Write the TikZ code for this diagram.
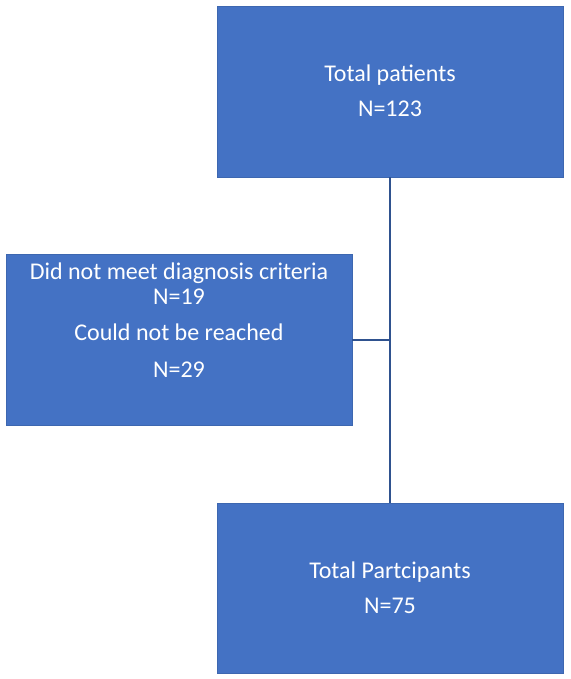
\documentclass[tikz,border=0pt]{standalone}
\usepackage{fontspec}
\setmainfont{Carlito}
\definecolor{boxblue}{HTML}{4472C4}
\definecolor{lineblue}{HTML}{2F528F}
\begin{document}
\begin{tikzpicture}[x=1pt,y=-1pt,
  flowbox/.style={fill=boxblue,draw=boxblue!90!black,line width=0.6pt,minimum width=346pt,inner sep=0pt,outer sep=0pt},
  boxtext/.style={text=white,font=\fontsize{24}{28}\selectfont,anchor=base,inner sep=0pt},
  conn/.style={draw=lineblue,line width=2pt}]
\useasboundingbox (0,0) rectangle (570,679);
\node[flowbox,minimum height=171pt] (top) at (390,91.5) {};
\node[flowbox,minimum height=171pt] (left) at (179,339.5) {};
\node[flowbox,minimum height=170pt] (bottom) at (390,588) {};
\node[boxtext] (t1) at (390,82) {Total patients};
\node[boxtext] (t2) at (390,117) {N=123};
\node[boxtext] (l1) at (179,279) {Did not meet diagnosis criteria};
\node[boxtext] (l2) at (179,304) {N=19};
\node[boxtext] (l3) at (179,340) {Could not be reached};
\node[boxtext] (l4) at (179,377) {N=29};
\node[boxtext] (b1) at (390,578) {Total Partcipants};
\node[boxtext] (b2) at (390,613) {N=75};
\draw[conn] (top.south) -- (bottom.north);
\draw[conn] (left.east) -- (left.east -| top.south);
\end{tikzpicture}
\end{document}
